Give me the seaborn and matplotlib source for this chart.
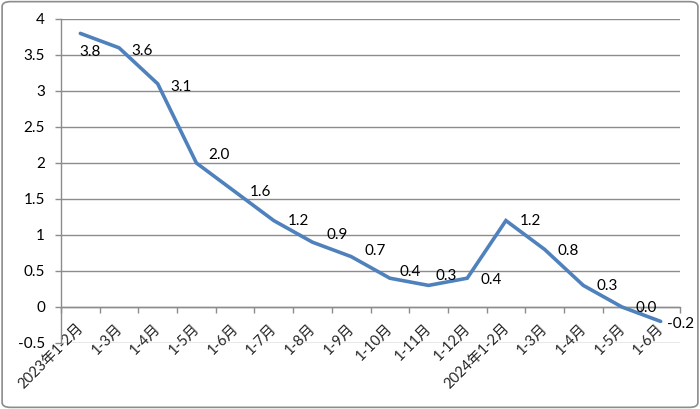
import matplotlib
matplotlib.use("Agg")
import matplotlib.pyplot as plt
import matplotlib.transforms as mtransforms
from matplotlib.patches import FancyBboxPatch
import seaborn as sns
import numpy as np
import pandas as pd

categories = ["2023年1-2月", "1-3月", "1-4月", "1-5月", "1-6月", "1-7月", "1-8月",
              "1-9月", "1-10月", "1-11月", "1-12月", "2024年1-2月", "1-3月",
              "1-4月", "1-5月", "1-6月"]
values = [3.8, 3.6, 3.1, 2.0, 1.6, 1.2, 0.9, 0.7, 0.4, 0.3, 0.4, 1.2, 0.8, 0.3, 0.0, -0.2]
y_ticks = [-0.5, 0, 0.5, 1, 1.5, 2, 2.5, 3, 3.5, 4]

# label offsets in pixels (dx to left edge, dy up)
label_offsets = [(0, -19), (12, -3), (13, -3), (12, 8), (15, 0), (14, 0), (14, 7),
                 (13, 6), (10, 6), (7, 9), (13, -2), (14, 0), (13, -2), (13, -1),
                 (14, -1), (6, -3)]

sns.set_theme(style="white")
plt.rcParams['font.family'] = ['Lato', 'Noto Sans CJK SC', 'DejaVu Sans']

df = pd.DataFrame({"pos": np.arange(len(values)), "value": values})

fig = plt.figure(figsize=(7.0, 4.09), dpi=100)
ax = fig.add_axes([61/700, 1-343/409, (680-61)/700, (343-19)/409])

grid_c = "#8c8c8c"
for yv in y_ticks:
    ax.axhline(yv, color=grid_c, lw=1.0, zorder=0)

sns.lineplot(data=df, x="pos", y="value", ax=ax, color="#4F81BD", lw=2.6,
             zorder=3, solid_joinstyle="miter")

ax.set_xlim(-0.5, len(values) - 0.5)
ax.set_ylim(-0.5, 4)
ax.set_yticks(y_ticks)
ax.set_yticklabels([f"{v:g}" for v in y_ticks], fontsize=11, color="black")
ax.set_xlabel("")
ax.set_ylabel("")

for s in ["top", "right"]:
    ax.spines[s].set_visible(False)
ax.spines["left"].set_color(grid_c)
ax.spines["left"].set_linewidth(1.0)
ax.spines["bottom"].set_position(("data", 0))
ax.spines["bottom"].set_color(grid_c)
ax.spines["bottom"].set_linewidth(1.0)

ax.set_xticks(np.arange(len(values)))
ax.set_xticklabels(categories, rotation=45, ha="right", rotation_mode="anchor",
                   fontsize=10.5)
ax.set_xticks(np.arange(len(values) + 1) - 0.5, minor=True)
ax.tick_params(axis="x", which="major", length=0, pad=6)
ax.tick_params(axis="x", which="minor", length=4, color=grid_c, width=1,
               direction="out", bottom=True)
ax.tick_params(axis="y", length=4, color=grid_c, width=1, direction="out",
               left=True, pad=7.5)

shift = mtransforms.ScaledTranslation(-4/100, -6/100, fig.dpi_scale_trans)
for lbl in ax.get_xticklabels():
    lbl.set_transform(lbl.get_transform() + shift)

for i, (v, (dx, dy)) in enumerate(zip(values, label_offsets)):
    ha = "center" if i == 0 else "left"
    dxx = 10 if i == 0 else dx
    ax.annotate(f"{v:.1f}", (i, v), xytext=(dxx, dy), textcoords="offset pixels",
                ha=ha, va="center", fontsize=11, color="black",
                annotation_clip=False, zorder=4)

border = FancyBboxPatch((0.003, 0.004), 0.994, 0.992, boxstyle="round,pad=0,rounding_size=0.012",
                        transform=fig.transFigure, fill=False, edgecolor="#8c8c8c",
                        lw=1.2)
fig.patches.append(border)

fig.savefig("out.png", dpi=100)
